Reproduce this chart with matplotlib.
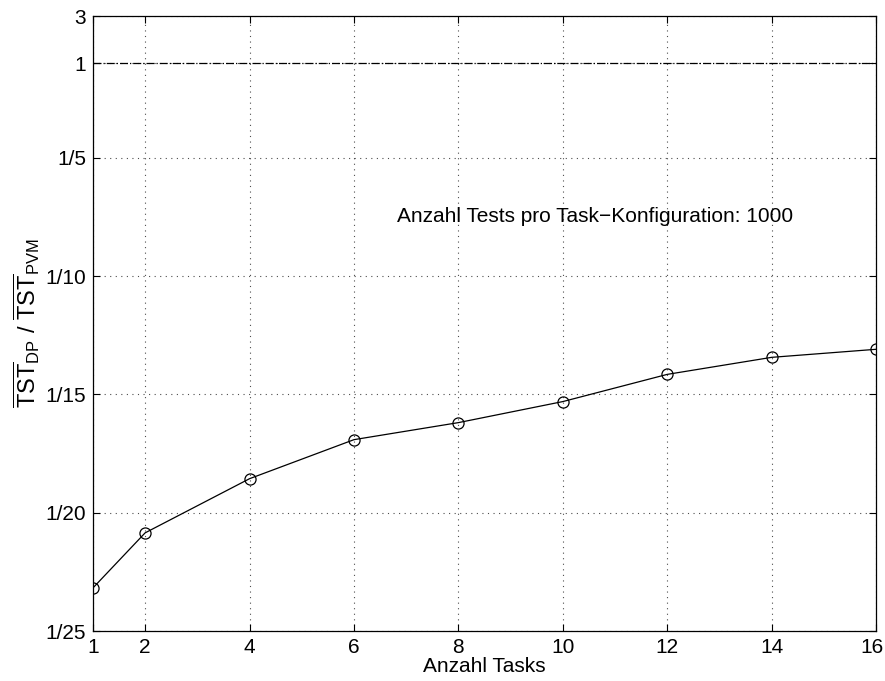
import matplotlib
matplotlib.use('Agg')
import matplotlib.pyplot as plt
import matplotlib.transforms as mtransforms

plt.rcParams['font.family'] = ['Liberation Sans', 'DejaVu Sans']
plt.rcParams['mathtext.fontset'] = 'custom'
plt.rcParams['mathtext.rm'] = 'Liberation Sans'
plt.rcParams['mathtext.it'] = 'Liberation Sans:italic'

# Anzahl Tasks und Verhältnis als Nenner (TST_DP / TST_PVM = 1/nenner)
tasks = [1, 2, 4, 6, 8, 10, 12, 14, 16]
nenner = [23.18, 20.85, 18.56, 16.91, 16.19, 15.30, 14.15, 13.43, 13.09]

xticks = [1, 2, 4, 6, 8, 10, 12, 14, 16]
yticks = [25, 20, 15, 10, 5, 1, -1]
ylabels = ['1/25', '1/20', '1/15', '1/10', '1/5', '1', '3']

fig = plt.figure(figsize=(8.85, 6.81), dpi=100)
ax = fig.add_axes([0.105, 0.0734, 0.885, 0.9031])

ax.plot(tasks, nenner, 'k-', lw=0.9, marker='o', mfc='none', mec='k', ms=8, mew=0.9)
ax.axhline(1, color='k', lw=0.9, ls='-.')

ax.set_xlim(1, 16)
ax.set_ylim(25, -1)
ax.set_xticks(xticks)
ax.set_yticks(yticks)
ax.set_yticklabels(ylabels)
ax.tick_params(direction='in', labelsize=15, length=5, top=True, right=True, pad=5)
ax.grid(True, ls=(0, (1, 4)), color='k', lw=0.8, alpha=0.7)

# letzte Beschriftung etwas nach links, damit sie nicht abgeschnitten wird
lab = ax.get_xticklabels()[-1]
lab.set_transform(lab.get_transform() + mtransforms.ScaledTranslation(-4 / 100, 0, fig.dpi_scale_trans))

ax.set_xlabel('Anzahl Tasks', fontsize=15, labelpad=0)
ax.set_ylabel(r'$\overline{\mathrm{TST}}_{\mathrm{DP}}\ /\ \overline{\mathrm{TST}}_{\mathrm{PVM}}$',
              fontsize=17, labelpad=2)
ax.text(6.82, 7.46, 'Anzahl Tests pro Task\u2212Konfiguration: 1000', fontsize=15, va='center')

for s in ax.spines.values():
    s.set_linewidth(0.9)

fig.savefig('out.png', dpi=100)
